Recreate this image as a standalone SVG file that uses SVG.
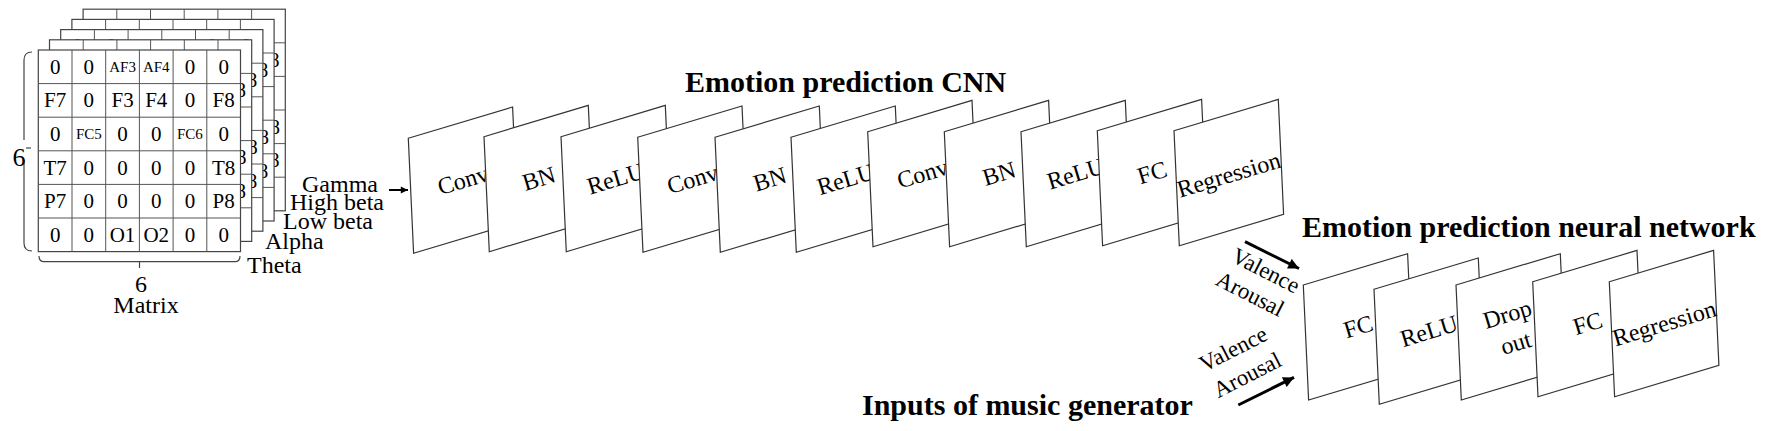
<svg xmlns="http://www.w3.org/2000/svg" xmlns:xlink="http://www.w3.org/1999/xlink" width="1772" height="431" viewBox="0 0 1772 431">
<style>
text{font-family:"Liberation Serif","Times New Roman",serif;fill:#000}
.c{font-size:21px;text-anchor:middle}
.s{font-size:15px;text-anchor:middle}
.lbl{font-size:24px}
.ttl{font-size:30px;font-weight:bold}
.panel{fill:#fff;stroke:#333;stroke-width:1.2}
.pt{font-size:24px;text-anchor:middle}
.va{font-size:23px;text-anchor:middle}
.br{fill:none;stroke:#444;stroke-width:1.2}
</style>
<defs>
<marker id="ah" viewBox="0 0 10 10" refX="10" refY="5" markerWidth="4" markerHeight="3.6" orient="auto" markerUnits="strokeWidth">
<path d="M0,0L10,5L0,10z" fill="#000"/>
</marker>
<g id="mgrid">
<rect width="202.2" height="201.6" fill="#fff" stroke="#444" stroke-width="1.2"/>
<path d="M33.7,0V201.6M67.4,0V201.6M101.1,0V201.6M134.8,0V201.6M168.5,0V201.6M0,33.6H202.2M0,67.2H202.2M0,100.8H202.2M0,134.4H202.2M0,168H202.2" stroke="#555" stroke-width="1" fill="none"/>
<text class="c" x="16.85" y="23.8">0</text><text class="c" x="50.55" y="23.8">0</text><text class="s" x="84.25" y="21.8">AF3</text><text class="s" x="117.95" y="21.8">AF4</text><text class="c" x="151.65" y="23.8">0</text><text class="c" x="185.35" y="23.8">0</text>
<text class="c" x="16.85" y="57.4">F7</text><text class="c" x="50.55" y="57.4">0</text><text class="c" x="84.25" y="57.4">F3</text><text class="c" x="117.95" y="57.4">F4</text><text class="c" x="151.65" y="57.4">0</text><text class="c" x="185.35" y="57.4">F8</text>
<text class="c" x="16.85" y="91">0</text><text class="s" x="50.55" y="89">FC5</text><text class="c" x="84.25" y="91">0</text><text class="c" x="117.95" y="91">0</text><text class="s" x="151.65" y="89">FC6</text><text class="c" x="185.35" y="91">0</text>
<text class="c" x="16.85" y="124.6">T7</text><text class="c" x="50.55" y="124.6">0</text><text class="c" x="84.25" y="124.6">0</text><text class="c" x="117.95" y="124.6">0</text><text class="c" x="151.65" y="124.6">0</text><text class="c" x="185.35" y="124.6">T8</text>
<text class="c" x="16.85" y="158.2">P7</text><text class="c" x="50.55" y="158.2">0</text><text class="c" x="84.25" y="158.2">0</text><text class="c" x="117.95" y="158.2">0</text><text class="c" x="151.65" y="158.2">0</text><text class="c" x="185.35" y="158.2">P8</text>
<text class="c" x="16.85" y="191.8">0</text><text class="c" x="50.55" y="191.8">0</text><text class="c" x="84.25" y="191.8">O1</text><text class="c" x="117.95" y="191.8">O2</text><text class="c" x="151.65" y="191.8">0</text><text class="c" x="185.35" y="191.8">0</text>
</g>
<polygon id="pnl" class="panel" points="0,0 104.3,-31.3 109.6,83.7 5.3,115"/>
</defs>

<g id="matrix">
<use xlink:href="#mgrid" x="83.1" y="9.2"/>
<use xlink:href="#mgrid" x="71.9" y="19.4"/>
<use xlink:href="#mgrid" x="60.7" y="29.6"/>
<use xlink:href="#mgrid" x="49.5" y="39.8"/>
<use xlink:href="#mgrid" x="38.3" y="50"/>
<path class="br" d="M32,52Q24,52 24,60V140M24,160V243Q24,251 32,251"/>
<path class="br" d="M26,148H31"/>
<text class="lbl" x="19" y="166" text-anchor="middle" style="font-size:26px">6</text>
<path class="br" d="M39,256Q39,261.7 44,261.7H235Q240,261.7 240,256M139.5,261.7V268"/>
<text class="lbl" x="141" y="292" text-anchor="middle">6</text>
<text class="lbl" x="146" y="313" text-anchor="middle">Matrix</text>
<text class="lbl" x="302" y="192">Gamma</text>
<text class="lbl" x="290" y="210">High beta</text>
<text class="lbl" x="283" y="228.5">Low beta</text>
<text class="lbl" x="265" y="248.5">Alpha</text>
<text class="lbl" x="247" y="272.5">Theta</text>
</g>

<g id="titles">
<text class="ttl" x="685" y="92">Emotion prediction CNN</text>
<text class="ttl" x="1302" y="237">Emotion prediction neural network</text>
<text class="ttl" x="862" y="415">Inputs of music generator</text>
</g>

<g id="cnn">
<g id="c1" transform="translate(408.3,138.3)"><use xlink:href="#pnl"/><text class="pt" transform="translate(54.8,41.9) rotate(-16.8)" dy="8">Conv</text></g>
<g id="c2" transform="translate(484,136.7)"><use xlink:href="#pnl"/><text class="pt" transform="translate(54.8,41.9) rotate(-16.8)" dy="8">BN</text></g>
<g id="c3" transform="translate(561,136.7)"><use xlink:href="#pnl"/><text class="pt" transform="translate(54.8,41.9) rotate(-16.8)" dy="8">ReLU</text></g>
<g id="c4" transform="translate(637.7,137.3)"><use xlink:href="#pnl"/><text class="pt" transform="translate(54.8,41.9) rotate(-16.8)" dy="8">Conv</text></g>
<g id="c5" transform="translate(715,137.3)"><use xlink:href="#pnl"/><text class="pt" transform="translate(54.8,41.9) rotate(-16.8)" dy="8">BN</text></g>
<g id="c6" transform="translate(791,137.3)"><use xlink:href="#pnl"/><text class="pt" transform="translate(54.8,41.9) rotate(-16.8)" dy="8">ReLU</text></g>
<g id="c7" transform="translate(867.7,131.7)"><use xlink:href="#pnl"/><text class="pt" transform="translate(54.8,41.9) rotate(-16.8)" dy="8">Conv</text></g>
<g id="c8" transform="translate(944.3,131.7)"><use xlink:href="#pnl"/><text class="pt" transform="translate(54.8,41.9) rotate(-16.8)" dy="8">BN</text></g>
<g id="c9" transform="translate(1021,131.7)"><use xlink:href="#pnl"/><text class="pt" transform="translate(54.8,41.9) rotate(-16.8)" dy="8">ReLU</text></g>
<g id="c10" transform="translate(1097.3,130.7)"><use xlink:href="#pnl"/><text class="pt" transform="translate(54.8,41.9) rotate(-16.8)" dy="8">FC</text></g>
<g id="c11" transform="translate(1174,130.7)"><use xlink:href="#pnl"/><text class="pt" transform="translate(54.8,44) rotate(-16.8)" dy="8">Regression</text></g>
</g>

<g id="nn">
<g id="n1" transform="translate(1303.3,285)"><use xlink:href="#pnl"/><text class="pt" transform="translate(55,41.7) rotate(-16.8)" dy="8">FC</text></g>
<g id="n2" transform="translate(1374,289.3)"><use xlink:href="#pnl"/><text class="pt" transform="translate(55,41.7) rotate(-16.8)" dy="8">ReLU</text></g>
<g id="n3" transform="translate(1456,285)"><use xlink:href="#pnl"/><text class="pt" transform="translate(55,41.7) rotate(-16.8)"><tspan x="0" y="-5">Drop</tspan><tspan x="0" y="25">out</tspan></text></g>
<g id="n4" transform="translate(1532.7,281.7)"><use xlink:href="#pnl"/><text class="pt" transform="translate(55,41.7) rotate(-16.8)" dy="8">FC</text></g>
<g id="n5" transform="translate(1609.3,281.7)"><use xlink:href="#pnl"/><text class="pt" transform="translate(55,41.7) rotate(-16.8)" dy="8">Regression</text></g>
</g>

<g id="connectors">
<line x1="389" y1="190" x2="408" y2="190" stroke="#000" stroke-width="2" marker-end="url(#ah)"/>
<line x1="1245" y1="241.7" x2="1299" y2="268.5" stroke="#000" stroke-width="3" marker-end="url(#ah)"/>
<line x1="1238.3" y1="405" x2="1294" y2="377.4" stroke="#000" stroke-width="3" marker-end="url(#ah)"/>
</g>

<g id="labels">
<text class="va" transform="translate(1262.3,277.3) rotate(27)">Valence</text>
<text class="va" transform="translate(1246.7,300.7) rotate(27)">Arousal</text>
<text class="va" transform="translate(1236.7,355.7) rotate(-27)">Valence</text>
<text class="va" transform="translate(1250.7,381.7) rotate(-27)">Arousal</text>
</g>
</svg>
